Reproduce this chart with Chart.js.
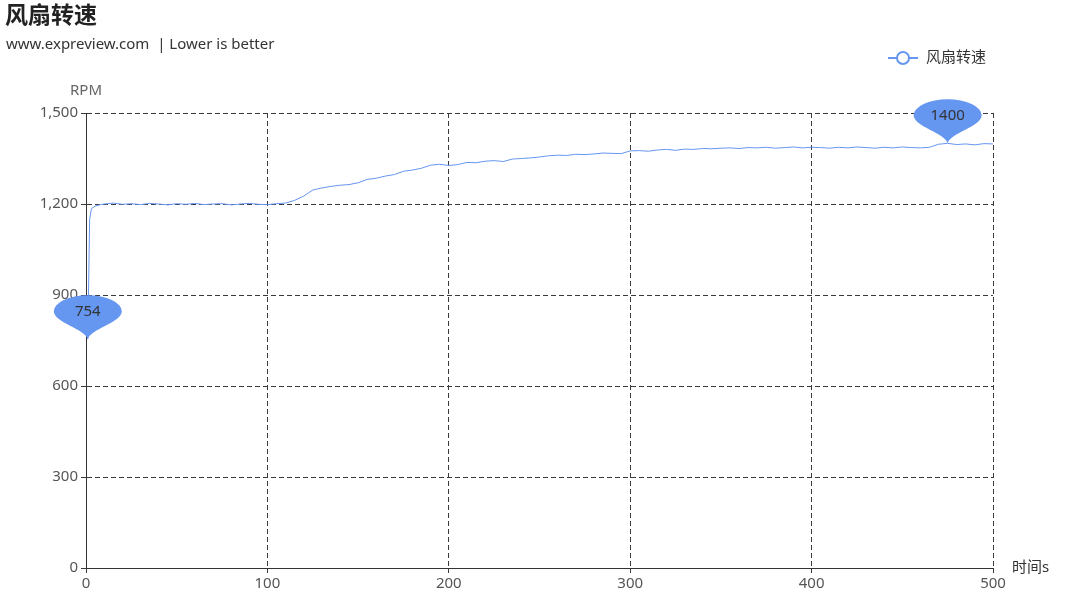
<!DOCTYPE html>
<html>
<head>
    <title>风扇转速</title>
    <script src="https://cdn.jsdelivr.net/npm/chart.js"></script>
    <style>
        body { margin: 0; background: #fff; }
        .wrap { position: relative; width: 1080px; height: 606px; }
    </style>
</head>
<body>
    <div class="wrap">
        <canvas id="fan-chart" width="1080" height="606"></canvas>
    </div>

    <script>
        // time in seconds
        const times = [1, 2, 3, 5, 8,
            10, 15, 20, 25, 30, 35, 40, 45, 50, 55, 60, 65, 70, 75, 80, 85, 90, 95, 100,
            105, 110, 115, 120, 125, 130, 135, 140, 145, 150, 155, 160, 165, 170, 175, 180,
            185, 190, 195, 200, 205, 210, 215, 220, 225, 230, 235, 240, 245, 250, 255, 260,
            265, 270, 275, 280, 285, 290, 295, 300, 305, 310, 315, 320, 325, 330, 335, 340,
            345, 350, 355, 360, 365, 370, 375, 380, 385, 390, 395, 400, 405, 410, 415, 420,
            425, 430, 435, 440, 445, 450, 455, 460, 465, 470, 475, 480, 485, 490, 495, 500];
        // fan speed, RPM
        const rpm = [754, 1150, 1185, 1193, 1198,
            1200, 1203, 1199, 1201, 1198, 1202, 1200, 1197, 1201, 1199, 1202, 1198, 1200, 1201, 1197, 1200, 1202, 1199, 1198,
            1201, 1203, 1212, 1226, 1246, 1253, 1258, 1262, 1264, 1270, 1281, 1285, 1292, 1297, 1308, 1312,
            1318, 1328, 1331, 1327, 1330, 1337, 1336, 1341, 1343, 1340, 1348, 1350, 1352, 1355, 1359, 1361,
            1360, 1364, 1363, 1365, 1368, 1367, 1366, 1375, 1376, 1374, 1378, 1380, 1377, 1381, 1380, 1383,
            1382, 1384, 1385, 1383, 1386, 1385, 1387, 1384, 1386, 1388, 1385, 1387, 1386, 1384, 1387, 1385,
            1388, 1386, 1384, 1387, 1385, 1388, 1386, 1385, 1387, 1397, 1400, 1396, 1398, 1395, 1399, 1398];
        const seriesName = '风扇转速';
        const yTicks = [0, 300, 600, 900, 1200, 1500];
        const xTicks = [0, 100, 200, 300, 400, 500];

        const FONT = '"Noto Sans", "Noto Sans CJK SC", sans-serif';
        const BLUE = '#6596f0';

        function drawPin(ctx, cx, tipY, text) {
            const rx = 34, ry = 16;
            const cy = tipY - 28;
            ctx.save();
            ctx.fillStyle = BLUE;
            ctx.beginPath();
            ctx.moveTo(cx, tipY);
            ctx.bezierCurveTo(cx - 2, tipY - 10, cx - rx, cy + ry * 0.7, cx - rx, cy);
            ctx.ellipse(cx, cy, rx, ry, 0, Math.PI, 2 * Math.PI);
            ctx.bezierCurveTo(cx + rx, cy + ry * 0.7, cx + 2, tipY - 10, cx, tipY);
            ctx.closePath();
            ctx.fill();
            ctx.fillStyle = '#333';
            ctx.font = '15px ' + FONT;
            ctx.textAlign = 'center';
            ctx.textBaseline = 'middle';
            ctx.fillText(text, cx, cy);
            ctx.restore();
        }

        const extras = {
            id: 'extras',
            afterDraw(chart) {
                const ctx = chart.ctx;
                const xs = chart.scales.x, ys = chart.scales.y;
                ctx.save();
                // title + subtitle
                ctx.fillStyle = '#222';
                ctx.textBaseline = 'middle';
                ctx.textAlign = 'left';
                ctx.font = 'bold 23px ' + FONT;
                ctx.fillText('风扇转速', 5, 16);
                ctx.fillStyle = '#333';
                ctx.font = '15px ' + FONT;
                ctx.fillText('www.expreview.com  | Lower is better', 6, 45);

                // legend
                ctx.strokeStyle = BLUE;
                ctx.lineWidth = 2;
                ctx.beginPath();
                ctx.moveTo(888, 58);
                ctx.lineTo(918, 58);
                ctx.stroke();
                ctx.fillStyle = '#fff';
                ctx.beginPath();
                ctx.arc(903, 58, 6, 0, Math.PI * 2);
                ctx.fill();
                ctx.stroke();
                ctx.fillStyle = '#333';
                ctx.fillText(seriesName, 926, 58);

                // axis names
                ctx.fillStyle = '#666';
                ctx.textAlign = 'center';
                ctx.fillText('RPM', xs.left, 91);
                ctx.fillStyle = '#333';
                ctx.textAlign = 'left';
                ctx.fillText('时间s', xs.right + 19, ys.bottom);
                ctx.restore();

                // min / max pins
                let iMin = 0, iMax = 0;
                rpm.forEach((v, i) => {
                    if (v < rpm[iMin]) iMin = i;
                    if (v > rpm[iMax]) iMax = i;
                });
                [iMin, iMax].forEach(i => {
                    drawPin(ctx, xs.getPixelForValue(times[i]), ys.getPixelForValue(rpm[i]), String(rpm[i]));
                });
            }
        };

        new Chart(document.getElementById('fan-chart'), {
            type: 'line',
            data: {
                datasets: [{
                    label: seriesName,
                    data: times.map((t, i) => ({ x: t, y: rpm[i] })),
                    borderColor: BLUE,
                    borderWidth: 1,
                    pointRadius: 0,
                    tension: 0,
                    fill: false
                }]
            },
            options: {
                responsive: false,
                animation: false,
                layout: { padding: { top: 113, right: 87, left: 0, bottom: 0 } },
                plugins: { legend: { display: false }, tooltip: { enabled: false } },
                scales: {
                    x: {
                        type: 'linear',
                        min: 0, max: 500,
                        afterBuildTicks: axis => { axis.ticks = xTicks.map(v => ({ value: v })); },
                        afterFit: axis => { axis.height = 38; },
                        grid: { color: '#3a3a3a', lineWidth: 1, tickLength: 5 },
                        border: { color: '#333', width: 1, dash: [5, 3] },
                        ticks: { color: '#555', font: { size: 15, family: FONT }, padding: 2, maxRotation: 0 }
                    },
                    y: {
                        min: 0, max: 1500,
                        afterBuildTicks: axis => { axis.ticks = yTicks.map(v => ({ value: v })); },
                        afterFit: axis => { axis.width = 86; },
                        grid: { color: '#3a3a3a', lineWidth: 1, tickLength: 5 },
                        border: { color: '#333', width: 1, dash: [5, 3] },
                        ticks: { color: '#555', font: { size: 15, family: FONT }, padding: 3 }
                    }
                }
            },
            plugins: [extras]
        });
    </script>
</body>
</html>
